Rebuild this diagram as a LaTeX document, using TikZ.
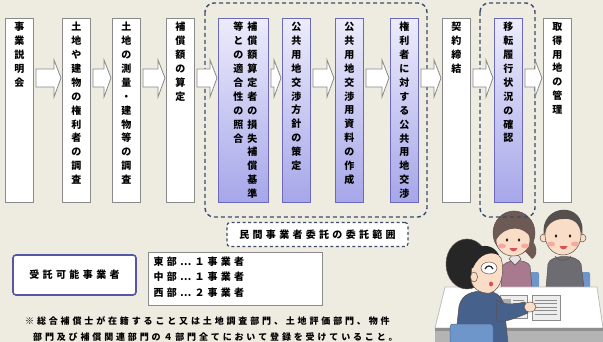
\documentclass[tikz,border=0pt]{standalone}
\usepackage{fontspec}
\newfontfamily\jp{Noto Sans CJK JP}
\usetikzlibrary{calc}

\definecolor{paper}{HTML}{EEEBE1}
\definecolor{edgegray}{HTML}{8A8A8A}
\definecolor{violetedge}{HTML}{6A6AB8}
\definecolor{violettop}{HTML}{ECECFB}
\definecolor{violetbot}{HTML}{A6A6EA}
\definecolor{rangeblue}{HTML}{3C4C6C}
\definecolor{framepurple}{HTML}{5656A6}
\definecolor{skin}{HTML}{FADDC6}
\definecolor{cheek}{HTML}{F5A9A0}
\definecolor{lip}{HTML}{D8505A}
\definecolor{womanhair}{HTML}{6E5A55}
\definecolor{manhair}{HTML}{55504E}
\definecolor{sweater}{HTML}{A8798F}
\definecolor{mansweater}{HTML}{6C6C72}
\definecolor{collar}{HTML}{E9E2E2}
\definecolor{chairblue}{HTML}{6E96CA}
\definecolor{jacket}{HTML}{46618B}
\definecolor{darkhair}{HTML}{262626}
\definecolor{outline}{HTML}{5E504C}
\definecolor{deskedge}{HTML}{BEBEBE}
\definecolor{deskfront}{HTML}{B4B4B4}
\definecolor{deskshade}{HTML}{8E8E8E}
\definecolor{sheet}{HTML}{EDEDED}
\definecolor{sheetedge}{HTML}{8C8C8C}

\makeatletter
% one character per line, fixed pitch
\newcommand\vcol[1]{\vtop{\baselineskip=13.9pt\lineskiplimit=-20pt\lineskip=0pt
  \@tfor\vc@ch:=#1\do{\hbox to 12pt{\hss\vc@ch\hss}}}}
% horizontal text with extra tracking
\newcommand\trk[2]{\@tfor\tk@ch:=#2\do{\tk@ch\kern#1}\unkern}
\makeatother

\newcommand\flowarrow[2]{%
  \path[flowarr] let \p1=(#1.north east), \p2=(#2.north west) in
    (\x1+2pt,\y1-51pt) -- (\x2-8pt,\y1-51pt) -- (\x2-8pt,\y1-42pt)
    -- (\x2-1pt,\y1-60pt) -- (\x2-8pt,\y1-79pt) -- (\x2-8pt,\y1-69pt)
    -- (\x1+2pt,\y1-69pt) -- cycle;}

\tikzset{
  stepplain/.style={rectangle, draw=edgegray, fill=white, line width=0.9pt,
    minimum width=28pt, minimum height=184pt, anchor=north west, inner sep=0pt},
  stepviolet/.style={stepplain, draw=violetedge, top color=violettop, bottom color=violetbot},
  vlabel/.style={anchor=north, inner sep=0pt, font=\jp\bfseries\fontsize{10pt}{12pt}\selectfont},
  flowarr/.style={draw=edgegray, fill=white, line width=0.8pt, line join=miter},
  rangeline/.style={draw=rangeblue, line width=1.4pt, dash pattern=on 4pt off 3pt, rounded corners=9pt},
  hlabel/.style={inner sep=0pt, font=\jp\bfseries\fontsize{10pt}{12pt}\selectfont},
  notetext/.style={anchor=west, inner sep=0pt, font=\jp\bfseries\fontsize{9pt}{11pt}\selectfont},
  ink/.style={draw=outline, line width=0.5pt},
}

\begin{document}
\begin{tikzpicture}[x=1pt,y=-1pt]
\useasboundingbox (0,0) rectangle (603,342);
\fill[paper] (0,0) rectangle (603,342);

% process steps
\node[stepplain]  (b1)  at (5,18)   {};
\node[stepplain]  (b2)  at (62,18)  {};
\node[stepplain]  (b3)  at (112,18) {};
\node[stepplain]  (b4)  at (166,18) {};
\node[stepviolet, minimum width=50pt] (b5) at (218,18) {};
\node[stepviolet] (b6)  at (282,18) {};
\node[stepviolet] (b7)  at (335,18) {};
\node[stepviolet] (b8)  at (390,18) {};
\node[stepplain]  (b9)  at (442,18) {};
\node[stepviolet] (b10) at (494,18) {};
\node[stepplain]  (b11) at (543,18) {};

\node[vlabel] (t1)  at ([yshift=-4pt]b1.north)  {\vcol{事業説明会}};
\node[vlabel] (t2)  at ([yshift=-4pt]b2.north)  {\vcol{土地や建物の権利者の調査}};
\node[vlabel] (t3)  at ([yshift=-4pt]b3.north)  {\vcol{土地の測量・建物等の調査}};
\node[vlabel] (t4)  at ([yshift=-4pt]b4.north)  {\vcol{補償額の算定}};
\node[vlabel] (t5)  at ([yshift=-4pt,xshift=2pt]b5.north)
  {\vcol{等との適合性の照合}\kern2pt\vcol{補償額算定者の損失補償基準}};
\node[vlabel] (t6)  at ([yshift=-4pt]b6.north)  {\vcol{公共用地交渉方針の策定}};
\node[vlabel] (t7)  at ([yshift=-4pt]b7.north)  {\vcol{公共用地交渉用資料の作成}};
\node[vlabel] (t8)  at ([yshift=-4pt]b8.north)  {\vcol{権利者に対する公共用地交渉}};
\node[vlabel] (t9)  at ([yshift=-4pt]b9.north)  {\vcol{契約締結}};
\node[vlabel] (t10) at ([yshift=-4pt]b10.north) {\vcol{移転履行状況の確認}};
\node[vlabel] (t11) at ([yshift=-4pt]b11.north) {\vcol{取得用地の管理}};

% people at the counter
\begin{scope}
  % chairs behind the couple
  \fill[chairblue, rounded corners=1.5pt] (530,272) rectangle (539,288);
  \fill[chairblue, rounded corners=1.5pt] (581,272) rectangle (590,288);
  % woman
  \fill[womanhair, ink] (514,233) ellipse [x radius=21, y radius=22];
  \fill[womanhair] (527,236) .. controls (539,244) and (538,256) .. (532,259) -- (524,250) -- cycle;
  \filldraw[fill=sweater, ink] (501,288) -- (502,268) .. controls (503,259) and (527,258) .. (530,266) -- (532,288) -- cycle;
  \filldraw[fill=collar, ink] (509,259) -- (515,265) -- (521,259) -- (518,255) -- (512,255) -- cycle;
  \filldraw[fill=skin, ink] (513,240) ellipse [x radius=17, y radius=16];
  \fill[womanhair] (496,240) .. controls (494,213) and (532,211) .. (531,238) .. controls (524,226) and (506,224) .. (496,240) -- cycle;
  \fill[cheek] (502,246) ellipse [x radius=4, y radius=2.5];
  \fill[cheek] (525,246) ellipse [x radius=4, y radius=2.5];
  \fill[darkhair] (507,240) ellipse [x radius=1.3, y radius=1.8];
  \fill[darkhair] (519,240) ellipse [x radius=1.3, y radius=1.8];
  \fill[lip] (509.5,248) .. controls (511,252.5) and (516,252.5) .. (517.5,248) -- cycle;
  % man
  \filldraw[fill=mansweater, ink] (546,288) -- (548,264) .. controls (550,254) and (578,254) .. (581,264) -- (584,288) -- cycle;
  \draw[outline, line width=0.5pt] (555,256) .. controls (559,262) and (567,262) .. (571,256);
  \filldraw[fill=skin, ink] (544,238) circle (4);
  \filldraw[fill=skin, ink] (582,238) circle (4);
  \filldraw[fill=skin, ink] (563,235) ellipse [x radius=18, y radius=20];
  \fill[manhair] (544,236) .. controls (538,203) and (588,199) .. (582,236) .. controls (580,222) and (572,218) .. (563,219) .. controls (554,219) and (546,224) .. (544,236) -- cycle;
  \fill[cheek] (551,244) ellipse [x radius=4, y radius=2.5];
  \fill[cheek] (575,244) ellipse [x radius=4, y radius=2.5];
  \fill[darkhair] (556,236) ellipse [x radius=1.3, y radius=1.8];
  \fill[darkhair] (570,236) ellipse [x radius=1.3, y radius=1.8];
  \fill[lip] (559.5,246) .. controls (561,250.5) and (566,250.5) .. (567.5,246) -- cycle;
  % desk
  \filldraw[fill=white, draw=deskedge, line width=0.8pt] (445,287) -- (597,287) -- (603,328) -- (435,328) -- cycle;
  \fill[deskfront] (435,328) rectangle (603,342);
  \fill[deskshade] (435,328) rectangle (603,331);
  % documents on the desk
  \filldraw[fill=sheet, draw=sheetedge, line width=0.6pt] (500,295) rectangle (527,318);
  \fill[sheetedge!70] (503,299) rectangle (511,307);
  \foreach \yy in {300,303,306} \draw[sheetedge, line width=0.5pt] (513,\yy) -- (524,\yy);
  \foreach \yy in {310,313} \draw[sheetedge, line width=0.5pt] (503,\yy) -- (524,\yy);
  \filldraw[fill=sheet, draw=sheetedge, line width=0.6pt] (532,295) rectangle (560,320);
  \foreach \yy in {300,303.5,...,317} \draw[sheetedge, line width=0.5pt] (535,\yy) -- (557,\yy);
  % staff member seen from behind
  \filldraw[fill=jacket, ink] (455,343) -- (459,306) .. controls (462,294) and (472,291) .. (484,291) .. controls (496,291) and (502,296) .. (504,305) -- (508,343) -- cycle;
  \filldraw[fill=jacket, ink] (496,300) .. controls (506,306) and (515,304) .. (525,302) -- (528,313) .. controls (516,318) and (506,322) .. (497,322) -- cycle;
  \filldraw[fill=skin, ink] (530,307) ellipse [x radius=6, y radius=5];
  \filldraw[fill=darkhair, ink] (467,264) ellipse [x radius=21, y radius=25];
  \filldraw[fill=skin, ink] (472,262) .. controls (478,250) and (494,248) .. (501,258) .. controls (505,270) and (502,290) .. (490,293) .. controls (480,294) and (472,288) .. (471,280) -- cycle;
  \fill[darkhair] (466,270) .. controls (466,246) and (490,238) .. (499,255) .. controls (490,251) and (479,254) .. (473,268) -- cycle;
  \filldraw[fill=skin, ink] (474,277) ellipse [x radius=3.5, y radius=5];
  \filldraw[fill=white, ink] (489,268) ellipse [x radius=8, y radius=6];
  \draw[darkhair, line width=1.2pt] (485,269) .. controls (487,265) and (491,265) .. (493,269);
  \fill[lip] (491,284) ellipse [x radius=2, y radius=2.5];
  \filldraw[fill=chairblue, draw=chairblue!70!black, line width=0.5pt, rounded corners=3pt] (450,344) -- (450,324) -- (493,324) -- (493,344);
\end{scope}

% range of outsourced work
\draw[rangeline] (205,3) rectangle (427,217);
\draw[rangeline] (480,3) rectangle (535,217);
\node[hlabel, draw=rangeblue, fill=white, line width=1.2pt, dash pattern=on 3pt off 2.5pt,
      rounded corners=3pt, minimum width=181pt, minimum height=24pt] (range) at (317.5,234.5)
  {\trk{3.3pt}{民間事業者委託の委託範囲}};

% flow
\flowarrow{b1}{b2}
\flowarrow{b2}{b3}
\flowarrow{b3}{b4}
\flowarrow{b4}{b5}
\flowarrow{b5}{b6}
\flowarrow{b6}{b7}
\flowarrow{b7}{b8}
\flowarrow{b8}{b9}
\flowarrow{b9}{b10}
\flowarrow{b10}{b11}

% eligible contractors
\node[hlabel, draw=framepurple, fill=white, line width=1.6pt, rounded corners=3pt,
      minimum width=123pt, minimum height=40pt] (elig) at (74.5,275) {\trk{3.4pt}{受託可能事業者}};
\node[draw=edgegray, fill=white, line width=1pt, minimum width=174pt, minimum height=53pt,
      inner sep=0pt] (count) at (235,278.5) {};
\node[hlabel, anchor=north west, align=left] (countlist) at ([xshift=6pt,yshift=-5pt]count.north west)
  {\trk{3.2pt}{東部…１事業者}\\[3.6pt]\trk{3.2pt}{中部…１事業者}\\[3.6pt]\trk{3.2pt}{西部…２事業者}};

% note
\node[notetext] (note1) at (25,321) {\trk{2.85pt}{※総合補償士が在籍すること又は土地調査部門、土地評価部門、物件}};
\node[notetext] (note2) at (33,337) {\trk{2.85pt}{部門及び補償関連部門の４部門全てにおいて登録を受けていること。}};
\end{tikzpicture}
\end{document}
